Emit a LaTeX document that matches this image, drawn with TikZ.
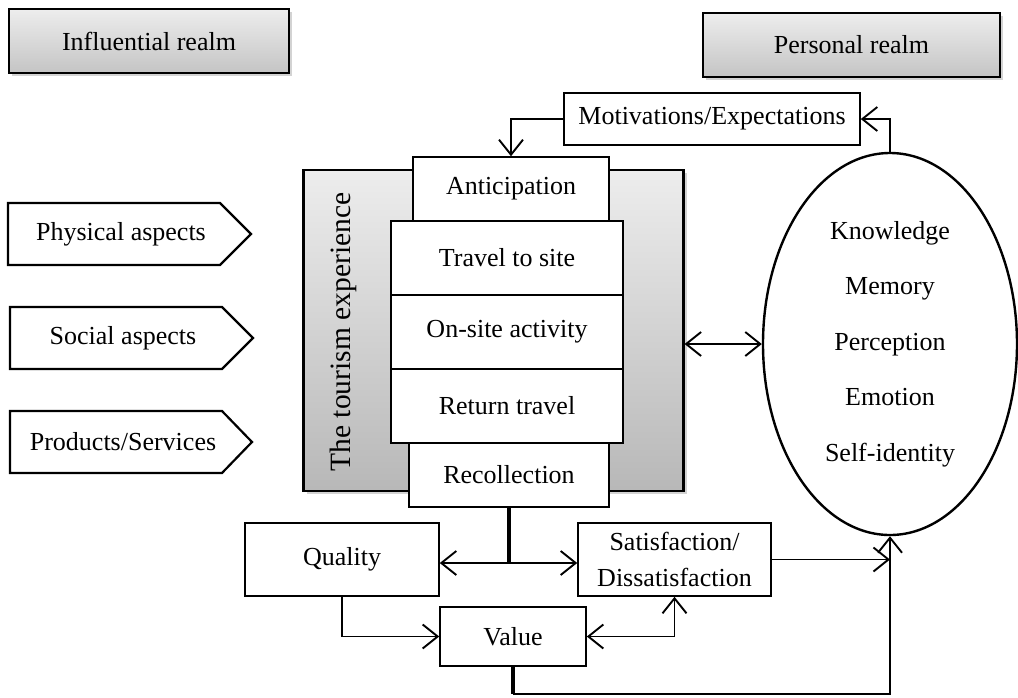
\documentclass[tikz,border=0pt]{standalone}
\usepackage{fontspec}
\setmainfont{Liberation Serif}
\usetikzlibrary{arrows.meta,shadows,calc,shapes.geometric}
\begin{document}
\begin{tikzpicture}[x=1pt,y=-1pt,
  every node/.style={font=\fontsize{26}{30}\selectfont, inner sep=0pt},
  wbox/.style={draw, line width=1.6pt, fill=white, rectangle},
  realm/.style={draw, line width=2.2pt, rectangle, top color=gray!14, bottom color=gray!46,
     drop shadow={shadow xshift=3pt, shadow yshift=-3pt, opacity=0.35}},
  tip/.style={},
  arr/.style={line width=1.9pt, -{Straight Barb[length=15pt,width=24pt,line width=1.9pt]}},
  arrtwo/.style={line width=1.9pt, {Straight Barb[length=15pt,width=24pt,line width=1.9pt]}-{Straight Barb[length=15pt,width=24pt,line width=1.9pt]}},
  thk/.style={line width=4pt},
  pent/.style={draw, line width=2.2pt, fill=white, line join=miter}
]
\useasboundingbox (0,0) rectangle (1018,697);

% realm boxes
\node[realm, minimum width=280pt, minimum height=64pt] (infl) at (149,41) {Influential realm};
\node[realm, minimum width=297pt, minimum height=64pt] (pers) at (851.5,45) {Personal realm};

% left pentagons
\draw[pent] (8,203) -- (220,203) -- (251,234) -- (220,265) -- (8,265) -- cycle;
\node (phys) at (121,234) {Physical aspects};
\draw[pent] (10,307) -- (222,307) -- (253,338) -- (222,369) -- (10,369) -- cycle;
\node (soc) at (123,338) {Social aspects};
\draw[pent] (10,411) -- (222,411) -- (252,442) -- (222,473) -- (10,473) -- cycle;
\node (prod) at (123,442) {Products/Services};

% tourism experience box
\node[draw, line width=2.2pt, rectangle, top color=gray!14, bottom color=gray!56,
      drop shadow={shadow xshift=3pt, shadow yshift=-3pt, opacity=0.35},
      minimum width=380pt, minimum height=321pt] (exp) at (493.5,330.5) {};
\node[rotate=90, font=\fontsize{29.5}{33}\selectfont] (explab) at (343,332) {The tourism experience};

% stages
\node[wbox, minimum width=196pt, minimum height=64pt] (antic) at (511,189) {Anticipation};
\node[wbox, minimum width=232pt, minimum height=74pt] (trav) at (507,258) {Travel to site};
\node[wbox, minimum width=232pt, minimum height=74pt] (onsite) at (507,332) {On-site activity};
\node[wbox, minimum width=232pt, minimum height=74pt] (ret) at (507,406) {Return travel};
\node[wbox, minimum width=200pt, minimum height=64pt] (recol) at (509,475) {Recollection};

% motivations
\node[wbox, minimum width=296pt, minimum height=52pt] (motiv) at (712,119) {Motivations/Expectations};

% ellipse
\node[draw, ellipse, line width=2.4pt, minimum width=254pt, minimum height=382pt,
      align=center, font=\fontsize{26}{55.5}\selectfont] (ell) at (890,344)
  {Knowledge\\Memory\\Perception\\Emotion\\Self-identity};

% lower boxes
\node[wbox, minimum width=194pt, minimum height=73pt] (qual) at (342,559.5) {Quality};
\node[wbox, minimum width=193pt, minimum height=73pt, align=center,
      font=\fontsize{26}{36}\selectfont] (sat) at (674.5,559.5) {Satisfaction/\\Dissatisfaction};
\node[wbox, minimum width=146pt, minimum height=59pt] (val) at (513,636.5) {Value};

% connectors
\draw[arr] (motiv.west) -| (antic.north);
\draw[arr] (ell.north) |- (motiv.east);
\draw[arrtwo] (exp.east |- ell.west) -- (ell.west);

\coordinate (j) at ($(recol.south |- 0,563)$);
\draw[thk] (recol.south) -- (j);
\draw[arr] (j) -- (j -| qual.east);
\draw[arr] (j) -- (j -| sat.west);

\draw[arr] (qual.south) |- (val.west);
\draw[arrtwo] (val.east) -| (sat.south);
\draw[arr] (sat.east) -- (sat.east -| ell.south);

\coordinate (vb) at ($(val.south |- 0,694)$);
\coordinate (eb) at ($(ell.south |- 0,694)$);
\draw[thk] (val.south) -- (vb);
\draw[arr, line join=miter] (vb) -- (eb) -- (ell.south);
\end{tikzpicture}
\end{document}
